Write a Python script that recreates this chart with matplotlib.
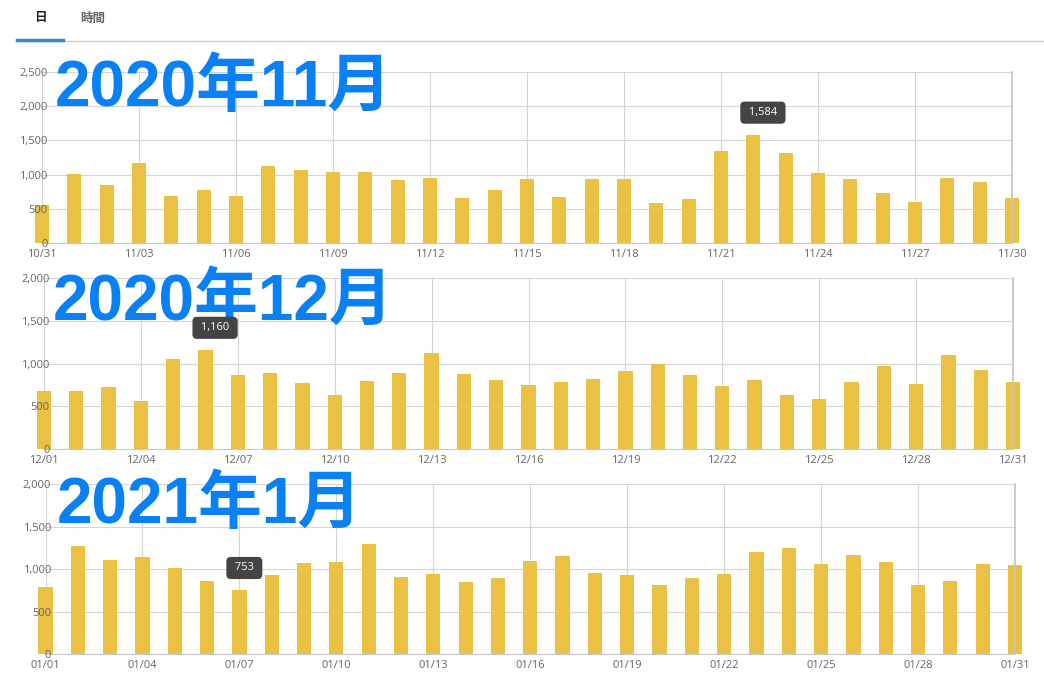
import matplotlib
matplotlib.use("Agg")
import matplotlib.pyplot as plt
from matplotlib.lines import Line2D

# ---- dados ----
nov_labels = ["10/31"] + [f"11/{d:02d}" for d in range(1, 31)]
nov_values = [560, 1002, 851, 1167, 681, 778, 691, 1128, 1070, 1031,
              1031, 919, 953, 661, 768, 939, 666, 934, 939, 589,
              637, 1347, 1584, 1313, 1021, 939, 734, 603, 948, 885, 657]

dec_labels = [f"12/{d:02d}" for d in range(1, 32)]
dec_values = [680, 680, 723, 566, 1051, 1160, 863, 891, 773, 633,
              793, 894, 1121, 879, 809, 750, 789, 824, 918, 992,
              871, 742, 809, 629, 586, 789, 973, 766, 1094, 922, 785]

jan_labels = [f"01/{d:02d}" for d in range(1, 32)]
jan_values = [792, 1271, 1106, 1141, 1008, 863, 753, 926, 1075, 1086,
              1294, 906, 937, 847, 890, 1094, 1153, 953, 930, 812,
              890, 945, 1204, 1251, 1059, 1165, 1086, 816, 859, 1059, 1043]

titles = ["2020年11月", "2020年12月", "2021年1月"]
y_max = [2500, 2000, 2000]
tooltip_idx = [22, 5, 6]  # barra com o balaozinho

BAR_COLOR = "#EBC143"
GRID_COLOR = "#d6d6d6"
TITLE_COLOR = "#0A80F5"
TICK_COLOR = "#666666"
FONT = ["Open Sans", "DejaVu Sans"]

W, H = 1044, 683
fig = plt.figure(figsize=(W / 100, H / 100), dpi=100)

# posicoes dos paineis em pixels: (esquerda, direita, topo, base)
panels_px = [(42, 1012, 72, 243), (44, 1013, 278, 449), (45.5, 1015, 484, 654)]
title_px = [(55, 106), (53, 320), (57, 523)]

datasets = [(nov_labels, nov_values), (dec_labels, dec_values), (jan_labels, jan_values)]

for k, (labels, values) in enumerate(datasets):
    l, r, t, b = panels_px[k]
    ax = fig.add_axes([l / W, 1 - b / H, (r - l) / W, (b - t) / H])
    x = list(range(len(values)))
    ax.bar(x, values, width=0.44, color=BAR_COLOR, clip_on=False, zorder=2)

    ax.set_xlim(0, len(values) - 1)
    ax.set_ylim(0, y_max[k])
    xt = x[::3]
    yt = list(range(0, y_max[k] + 1, 500))
    ax.set_xticks(xt)
    ax.set_xticklabels(labels[::3])
    ax.set_yticks(yt)
    ax.set_yticklabels([f"{v:,}" for v in yt])
    # rotulos dos eixos por cima das barras
    ax.set_axisbelow(False)

    # grade desenhada na mao, atras das barras
    for v in yt:
        ax.axhline(v, color=GRID_COLOR, linewidth=0.8, zorder=1)
    for v in xt:
        ax.axvline(v, color=GRID_COLOR, linewidth=0.8, zorder=1)

    for s in ["left", "top"]:
        ax.spines[s].set_visible(False)
    ax.spines["right"].set_color("#c4c4c4")
    ax.spines["right"].set_linewidth(1.2)
    ax.spines["bottom"].set_color("#c8c8c8")
    ax.tick_params(axis="both", length=0, labelsize=8, labelcolor=TICK_COLOR)
    ax.tick_params(axis="y", pad=-4)
    ax.tick_params(axis="x", pad=4)
    for lab in ax.get_xticklabels() + ax.get_yticklabels():
        lab.set_family(FONT)

    # titulo grande azul (acima da grade, abaixo do balao)
    tx, ty = title_px[k]
    ax.text(tx / W, 1 - ty / H, titles[k], transform=fig.transFigure,
            ha="left", va="baseline", fontsize=46, fontweight="bold",
            color=TITLE_COLOR, family=["Liberation Sans", "Noto Sans CJK JP"],
            clip_on=False, zorder=3)

    # balaozinho com o valor
    i = tooltip_idx[k]
    ax.annotate(f" {values[i]:,} ", (i, values[i]), xytext=(-7.5, 22),
                textcoords="offset pixels", ha="left", va="center",
                fontsize=8, color="white", family=FONT,
                bbox=dict(boxstyle="round,pad=0.5,rounding_size=0.4",
                          fc="#444444", ec="none"),
                annotation_clip=False, zorder=5)

# ---- abas no topo ----
fig.text(40 / W, 1 - 18 / H, "日", ha="center", va="center", fontsize=9,
         fontweight="bold", color="#222222", family=["Noto Sans CJK JP"])
fig.text(93 / W, 1 - 18 / H, "時間", ha="center", va="center", fontsize=9,
         fontweight="bold", color="#666666", family=["Noto Sans CJK JP"])
fig.add_artist(Line2D([17 / W, 1], [1 - 40.5 / H, 1 - 40.5 / H],
                      transform=fig.transFigure, color="#cccccc", linewidth=1))
fig.add_artist(Line2D([17 / W, 63 / W], [1 - 39.5 / H, 1 - 39.5 / H],
                      transform=fig.transFigure, color="#3A8CC6", linewidth=2.5))

fig.savefig("out.png", dpi=100)
